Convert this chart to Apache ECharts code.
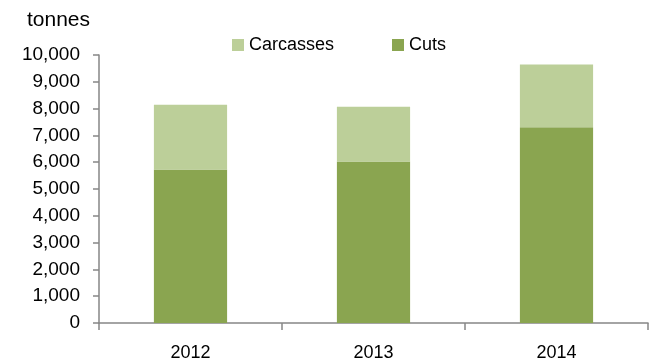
<!DOCTYPE html>
<html>
<head>
<meta charset="utf-8">
<script src="https://cdn.jsdelivr.net/npm/echarts@6/dist/echarts.min.js"></script>
<style>
html,body{margin:0;padding:0;background:#fff;}
#c{width:661px;height:358px;}
</style>
</head>
<body>
<div id="c"></div>
<script>
const categories = ['2012', '2013', '2014'];
const cuts = [5730, 6030, 7300];
const carcasses = [2410, 2040, 2350];
const yTicks = [0, 1000, 2000, 3000, 4000, 5000, 6000, 7000, 8000, 9000, 10000];

const chart = echarts.init(document.getElementById('c'), null, {renderer: 'canvas'});
const axisColor = '#868686';
chart.setOption({
  animation: false,
  backgroundColor: '#ffffff',
  title: {
    text: 'tonnes',
    left: 27, top: 10,
    padding: 0,
    textStyle: {fontFamily: 'Liberation Sans', fontSize: 21, fontWeight: 'normal', color: '#000'}
  },
  legend: {
    data: ['Carcasses', 'Cuts'],
    left: 232, top: 36, padding: 0,
    itemWidth: 12, itemHeight: 12, itemGap: 58,
    icon: 'rect',
    textStyle: {fontFamily: 'Liberation Sans', fontSize: 18, color: '#000'}
  },
  grid: {left: 99, right: 13, top: 55, bottom: 35, containLabel: false, outerBoundsMode: 'none'},
  xAxis: {
    type: 'category',
    data: categories,
    axisLine: {lineStyle: {color: axisColor, width: 1.5}},
    axisTick: {show: true, length: 7, lineStyle: {color: axisColor, width: 1.5}},
    axisLabel: {margin: 21, fontFamily: 'Liberation Sans', fontSize: 18, color: '#000'}
  },
  yAxis: {
    type: 'value',
    min: yTicks[0], max: yTicks[yTicks.length - 1], interval: yTicks[1] - yTicks[0],
    splitLine: {show: false},
    axisLine: {show: true, lineStyle: {color: axisColor, width: 1.5}},
    axisTick: {show: true, length: 6, lineStyle: {color: axisColor, width: 1.5}},
    axisLabel: {
      margin: 19, fontFamily: 'Liberation Sans', fontSize: 19, color: '#000',
      formatter: v => v.toLocaleString('en-US')
    }
  },
  series: [
    {name: 'Cuts', type: 'bar', stack: 't', data: cuts, barWidth: '40%',
     itemStyle: {color: '#8AA550'}},
    {name: 'Carcasses', type: 'bar', stack: 't', data: carcasses, barWidth: '40%',
     itemStyle: {color: '#BCCF99'}}
  ]
});
</script>
</body>
</html>
